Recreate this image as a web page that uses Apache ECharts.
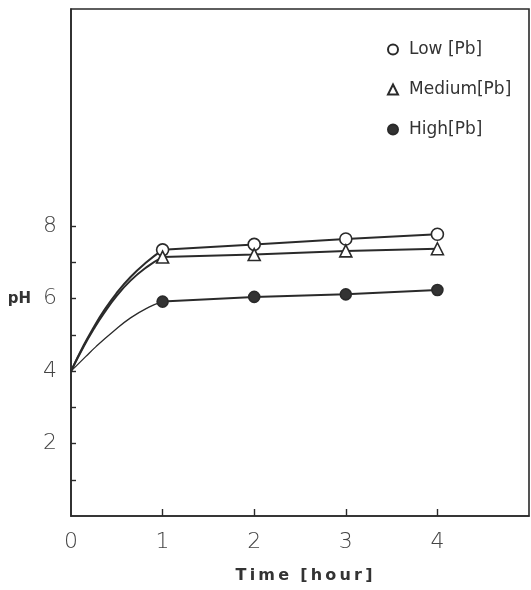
<!DOCTYPE html>
<html>
<head>
<meta charset="utf-8">
<script src="https://cdn.jsdelivr.net/npm/echarts@6/dist/echarts.min.js"></script>
<style>
html,body{margin:0;padding:0;background:#fff;}
#chart{width:531px;height:590px;}
</style>
</head>
<body>
<div id="chart"></div>
<script>
// Measured points (time in hours, pH)
const times = [1, 2, 3, 4];
const lowPH = [7.35, 7.5, 7.65, 7.78];
const mediumPH = [7.15, 7.22, 7.32, 7.38];
const highPH = [5.92, 6.05, 6.12, 6.24];

const lowCurveX = [0, 0.14, 0.25, 0.36, 0.49, 0.65, 0.83, 1];
const lowCurveY = [4, 4.72, 5.22, 5.67, 6.13, 6.6, 7.02, 7.35];
const medCurveX = [0, 0.14, 0.25, 0.36, 0.49, 0.65, 0.83, 1];
const medCurveY = [4, 4.69, 5.17, 5.6, 6.05, 6.5, 6.88, 7.15];
const highCurveX = [0, 0.16, 0.27, 0.455, 0.65, 0.845, 1];
const highCurveY = [4, 4.4, 4.67, 5.08, 5.47, 5.76, 5.92];

const xTickLabels = [0, 1, 2, 3, 4];
const xTicks = [1, 2, 3, 4];
const yTickLabels = [2, 4, 6, 8];
const yTicks = [1, 2, 3, 4, 5, 6, 7, 8];

const names = ['Low [Pb]', 'Medium[Pb]', 'High[Pb]'];
const xTitle = 'T\u2009i\u2009m\u2009e  [\u2009h\u2009o\u2009u\u2009r\u2009]';

const ink = '#2a2a2a';
const pair = (xs, ys) => xs.map((x, i) => [x, ys[i]]);

const chart = echarts.init(document.getElementById('chart'), null, {renderer: 'canvas'});

const curve = (name, xs, ys, w) => ({
  name: name, type: 'line', smooth: 0.5, showSymbol: false, symbol: 'none',
  data: pair(xs, ys), lineStyle: {color: ink, width: w}, silent: true, z: 2
});
const marks = (name, ys, symbol, size, fill) => ({
  name: name, type: 'line', data: pair(times, ys),
  symbol: symbol, symbolSize: size, showSymbol: true,
  lineStyle: {color: ink, width: 2},
  itemStyle: {color: fill, borderColor: ink, borderWidth: 1.6},
  z: 3
});

chart.setOption({
  animation: false,
  backgroundColor: '#fff',
  grid: {left: 71, top: 9, right: 2, bottom: 74, show: true, borderColor: ink, borderWidth: 1.6, backgroundColor: 'transparent'},
  legend: {
    orient: 'vertical', left: 382, top: 36, itemGap: 23, itemWidth: 10, itemHeight: 10,
    textStyle: {fontFamily: 'DejaVu Sans', fontSize: 17, color: '#333', padding: [0, 0, 0, 6]},
    data: [
      {name: names[0], icon: 'circle'},
      {name: names[1], icon: 'triangle'},
      {name: names[2], icon: 'circle'}
    ]
  },
  xAxis: {
    type: 'value', min: 0, max: 5, interval: 1,
    name: xTitle, nameLocation: 'middle', nameGap: 52,
    nameTextStyle: {fontFamily: 'DejaVu Sans', fontWeight: 'bold', fontSize: 16, color: '#333', padding: [0, 0, 0, 8]},
    axisLine: {lineStyle: {color: ink, width: 1.6}},
    axisTick: {inside: true, length: 7, customValues: xTicks, lineStyle: {color: ink, width: 1.4}},
    axisLabel: {customValues: xTickLabels, margin: 15, fontFamily: 'DejaVu Sans', fontWeight: 200, fontSize: 22, color: '#444'},
    splitLine: {show: false}
  },
  yAxis: {
    type: 'value', min: 0, max: 14, interval: 1,
    axisLine: {show: true, lineStyle: {color: ink, width: 1.6}},
    axisTick: {show: true, inside: true, length: 5, customValues: yTicks, lineStyle: {color: ink, width: 1.4}},
    axisLabel: {
      customValues: yTickLabels, margin: 14,
      formatter: v => v === 6 ? '{p|pH}{n|6}' : '{n|' + v + '}',
      rich: {
        p: {fontFamily: 'DejaVu Sans', fontWeight: 'bold', fontSize: 15, color: '#333', padding: [0, 12, 0, 0]},
        n: {fontFamily: 'DejaVu Sans', fontWeight: 200, fontSize: 22, color: '#444'}
      }
    },
    splitLine: {show: false}
  },
  series: [
    curve('lowCurve', lowCurveX, lowCurveY, 2),
    curve('medCurve', medCurveX, medCurveY, 2),
    curve('highCurve', highCurveX, highCurveY, 1.3),
    marks(names[0], lowPH, 'circle', 12, '#fff'),
    marks(names[1], mediumPH, 'triangle', 12, '#fff'),
    marks(names[2], highPH, 'circle', 11, '#333')
  ]
});
</script>
</body>
</html>
